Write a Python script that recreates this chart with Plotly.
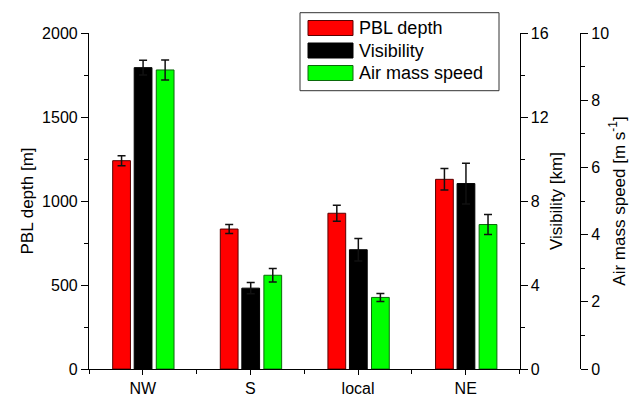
import plotly.graph_objects as go

categories = ["NW", "S", "local", "NE"]
pbl_depth = [1240, 833, 927, 1129]          # m
pbl_err = [30, 27, 48, 64]
visibility = [14.35, 3.85, 5.68, 8.83]      # km
visibility_err = [0.35, 0.27, 0.54, 0.97]
air_speed = [8.9, 2.79, 2.13, 4.3]          # m/s
air_speed_err = [0.3, 0.2, 0.12, 0.3]

series_names = ["PBL depth", "Visibility", "Air mass speed"]
fill_colors = ["#ff0000", "#000000", "#00ff00"]
edge_colors = ["#5a0000", "#000000", "#0a6a0a"]

x = list(range(len(categories)))
W, H = 635, 397
ML, MR, MT, MB = 89, 55, 33, 28
PW = W - ML - MR
PH = H - MT - MB
XEND = (519.5 - ML) / PW

FONT = "Liberation Sans, Arial, sans-serif"
fig = go.Figure()

bar_width = 0.165
offsets = [-0.28, -0.08, 0.125]
vals = [pbl_depth, visibility, air_speed]
errs = [pbl_err, visibility_err, air_speed_err]
axes = ["y", "y2", "y3"]
for i in range(3):
    fig.add_trace(go.Bar(
        x=x, y=vals[i], name=series_names[i], yaxis=axes[i],
        width=bar_width, offset=offsets[i],
        marker=dict(color=fill_colors[i], line=dict(color=edge_colors[i], width=1)),
        error_y=dict(type="data", array=errs[i], color="#111111", thickness=1.5, width=4),
        showlegend=False,
    ))

axis_common = dict(showline=True, linecolor="black", linewidth=1.2, ticks="outside",
                   tickwidth=1.2, tickcolor="black", showgrid=False, zeroline=False,
                   tickfont=dict(family=FONT, size=16, color="black"))

fig.update_layout(
    width=W, height=H,
    margin=dict(l=ML, r=MR, t=MT, b=MB, autoexpand=False),
    paper_bgcolor="white", plot_bgcolor="white",
    font=dict(family=FONT, size=16, color="black"),
    barmode="overlay",
    xaxis=dict(domain=[0, XEND], range=[-0.5, 3.5], tickvals=x, ticktext=categories, ticklen=5,
               minor=dict(tick0=0.5, dtick=1, ticks="outside", ticklen=4, tickwidth=1.2, tickcolor="black"),
               **axis_common),
    yaxis=dict(range=[0, 2000], tickvals=[0, 500, 1000, 1500, 2000], ticklen=7,
               minor=dict(dtick=250, ticks="outside", ticklen=4, tickwidth=1.2, tickcolor="black"),
               title=dict(text="PBL depth [m]", font=dict(family=FONT, size=17), standoff=4),
               **axis_common),
    yaxis2=dict(range=[0, 16], tickvals=[0, 4, 8, 12, 16], overlaying="y", side="right", anchor="x",
                ticklen=7,
                minor=dict(dtick=2, ticks="outside", ticklen=4, tickwidth=1.2, tickcolor="black"),
                title=dict(text="Visibility [km]", font=dict(family=FONT, size=17), standoff=2),
                **axis_common),
    yaxis3=dict(range=[0, 10], tickvals=[0, 2, 4, 6, 8, 10], overlaying="y", side="right",
                anchor="free", position=1.0, ticklen=7,
                minor=dict(dtick=1, ticks="outside", ticklen=4, tickwidth=1.2, tickcolor="black"),
                title=dict(text="Air mass speed [m s<sup>-1</sup>]", font=dict(family=FONT, size=17), standoff=4),
                **axis_common),
)

# custom legend (long swatches like the original)
def px_x(px):
    return (px - ML) / PW

def px_y(py):
    return (H - MB - py) / PH

fig.add_shape(type="rect", xref="paper", yref="paper",
              x0=px_x(300), x1=px_x(499), y0=px_y(90.7), y1=px_y(12.7),
              line=dict(color="#333333", width=1), fillcolor="white", layer="above")
row_centers = [28, 50.5, 73]
for i, name in enumerate(series_names):
    cy = row_centers[i]
    fig.add_shape(type="rect", xref="paper", yref="paper",
                  x0=px_x(308), x1=px_x(353), y0=px_y(cy + 7.5), y1=px_y(cy - 7.5),
                  line=dict(color=edge_colors[i], width=1), fillcolor=fill_colors[i], layer="above")
    fig.add_annotation(xref="paper", yref="paper", x=px_x(357), y=px_y(cy),
                       text=name, showarrow=False, xanchor="left", yanchor="middle",
                       font=dict(family=FONT, size=18, color="black"))

fig.write_html("out.html", config={"displayModeBar": False},
               post_script="document.body.style.margin='0';document.body.style.overflow='hidden';")
